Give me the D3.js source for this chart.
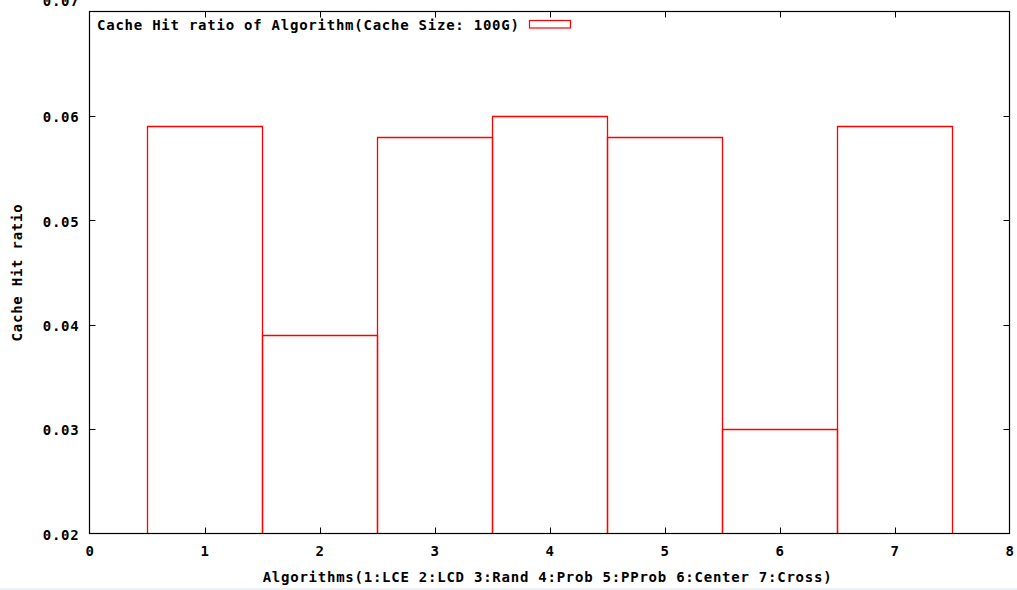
<!DOCTYPE html>
<html>
<head>
<meta charset="utf-8">
<script src="https://cdn.jsdelivr.net/npm/d3@7"></script>
<style>
html,body{margin:0;padding:0;background:#fff;}
svg{display:block;}
text{font-family:"DejaVu Sans Mono","Liberation Mono",monospace;font-weight:bold;font-size:14px;letter-spacing:0.76px;fill:#000;}
</style>
</head>
<body>
<svg id="chart" width="1017" height="590"></svg>
<script>
const categories = [1, 2, 3, 4, 5, 6, 7];
const hitRatio = [0.059, 0.039, 0.058, 0.060, 0.058, 0.030, 0.059];
const xTicks = [0, 1, 2, 3, 4, 5, 6, 7, 8];
const yTicks = [0.02, 0.03, 0.04, 0.05, 0.06, 0.07];
const seriesName = "Cache Hit ratio of Algorithm(Cache Size: 100G)";
const xTitle = "Algorithms(1:LCE 2:LCD 3:Rand 4:Prob 5:PProb 6:Center 7:Cross)";
const yTitle = "Cache Hit ratio";

const W = 1017, H = 590;
const m = {left: 89.5, right: 1009.5, top: 11.5, bottom: 533.5};
const svg = d3.select("#chart");

svg.append("rect").attr("x",0).attr("y",588).attr("width",W).attr("height",2).attr("fill","#eef1f6");

const x = d3.scaleLinear().domain([0, 8]).range([m.left, m.right]);
const y = d3.scaleLinear().domain([0.02, 0.07]).range([m.bottom, m.top]);

// bars
svg.append("g").selectAll("path").data(categories).join("path")
  .attr("d", (c, i) => {
    const x0 = Math.round(x(c - 0.5)) + 0.5, x1 = Math.round(x(c + 0.5)) + 0.5;
    const yt = Math.round(y(hitRatio[i])) + 0.5, yb = m.bottom;
    return `M${x0},${yb}V${yt}H${x1}V${yb}`;
  })
  .attr("fill", "none").attr("stroke", "#ff0000").attr("stroke-width", 1.3);

// frame
svg.append("rect").attr("x", m.left).attr("y", m.top)
  .attr("width", m.right - m.left).attr("height", m.bottom - m.top)
  .attr("fill", "none").attr("stroke", "#000").attr("stroke-width", 1.2);

const tl = 6;
// x axis
const xAxis = d3.axisBottom(x).tickValues(xTicks).tickFormat(d3.format("d")).tickSize(0).tickPadding(13);
const gx = svg.append("g").attr("transform", `translate(0,${m.bottom})`).call(xAxis);
gx.select(".domain").remove();
gx.selectAll("text").attr("font-size", null).attr("font-family", null);
// ticks inward bottom & top
const xt = xTicks.slice(1, -1);
svg.append("g").selectAll("line").data(xt).join("line")
  .attr("x1", d => Math.round(x(d)) + 0.5).attr("x2", d => Math.round(x(d)) + 0.5)
  .attr("y1", m.bottom).attr("y2", m.bottom - tl).attr("stroke", "#000");
svg.append("g").selectAll("line").data(xt).join("line")
  .attr("x1", d => Math.round(x(d)) + 0.5).attr("x2", d => Math.round(x(d)) + 0.5)
  .attr("y1", m.top).attr("y2", m.top + tl).attr("stroke", "#000");

// y axis
const yAxis = d3.axisLeft(y).tickValues(yTicks).tickFormat(d3.format(".2f")).tickSize(0).tickPadding(10);
const gy = svg.append("g").attr("transform", `translate(${m.left},0)`).call(yAxis);
gy.select(".domain").remove();
gy.selectAll("text").attr("font-size", null).attr("font-family", null)
  .attr("dy", d => d === 0.07 ? "-0.4em" : "0.42em");
const yt = yTicks.slice(1, -1);
svg.append("g").selectAll("line").data(yt).join("line")
  .attr("y1", d => Math.round(y(d)) + 0.5).attr("y2", d => Math.round(y(d)) + 0.5)
  .attr("x1", m.left).attr("x2", m.left + tl).attr("stroke", "#000");
svg.append("g").selectAll("line").data(yt).join("line")
  .attr("y1", d => Math.round(y(d)) + 0.5).attr("y2", d => Math.round(y(d)) + 0.5)
  .attr("x1", m.right).attr("x2", m.right - tl).attr("stroke", "#000");

// titles
svg.append("text").attr("x", (m.left + m.right) / 2 - 2).attr("y", 582)
  .attr("text-anchor", "middle").text(xTitle);
svg.append("text").attr("transform", `translate(22,${(m.top + m.bottom) / 2}) rotate(-90)`)
  .attr("text-anchor", "middle").text(yTitle);

// legend
svg.append("text").attr("x", 97).attr("y", 30).text(seriesName);
svg.append("rect").attr("x", 529.5).attr("y", 20.5).attr("width", 41).attr("height", 7.5)
  .attr("fill", "none").attr("stroke", "#ff0000").attr("stroke-width", 1.2);
</script>
</body>
</html>
